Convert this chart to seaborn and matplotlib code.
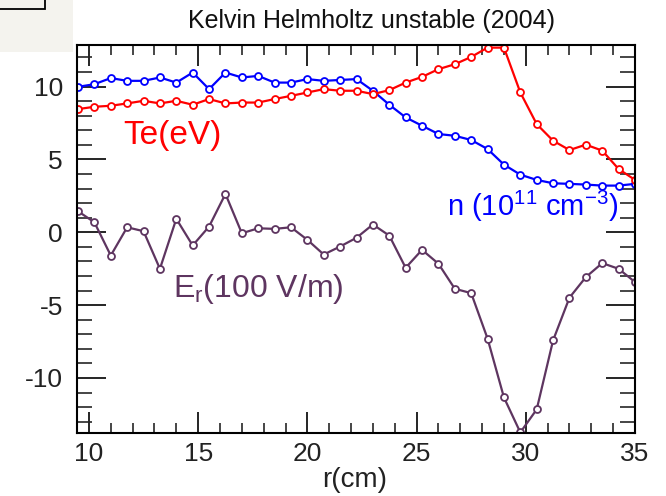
import numpy as np
import pandas as pd
import matplotlib
matplotlib.use("Agg")
import matplotlib.pyplot as plt
from matplotlib.patches import Rectangle
from matplotlib.ticker import MultipleLocator
import seaborn as sns

# Radial positions (cm), one probe point every 0.75 cm
r_cm = [9.5 + 0.75 * i for i in range(35)]

# Electron temperature (eV)
te_ev = [8.45, 8.61, 8.68, 8.84, 9.02, 8.84, 9.02, 8.75, 9.14, 8.84,
         8.90, 8.90, 9.14, 9.36, 9.59, 9.82, 9.71, 9.71, 9.48, 9.75,
         10.27, 10.66, 11.19, 11.53, 12.03, 12.67, 12.67, 9.59, 7.42, 6.28,
         5.64, 6.01, 5.60, 4.34, 3.59]

# Density (1e11 cm^-3)
n_e = [9.98, 10.16, 10.58, 10.39, 10.39, 10.62, 10.27, 10.96, 9.82, 10.96,
       10.62, 10.73, 10.27, 10.27, 10.51, 10.39, 10.45, 10.51, 9.71, 8.75,
       7.88, 7.31, 6.74, 6.62, 6.33, 5.71, 4.64, 3.95, 3.59, 3.36,
       3.32, 3.27, 3.20, 3.20, 3.32]

# Radial electric field (100 V/m)
e_r = [1.44, 0.68, -1.60, 0.34, 0.07, -2.51, 0.92, -0.91, 0.39, 2.63,
       -0.07, 0.27, 0.23, 0.34, -0.52, -1.53, -0.98, -0.38, 0.53, -0.23,
       -2.44, -1.21, -2.16, -3.88, -4.18, -7.30, -11.34, -13.74, -12.16, -7.42,
       -4.49, -3.08, -2.12, -2.51, -3.42]

title_text = "Kelvin Helmholtz unstable (2004)"
x_label = "r(cm)"
x_ticks = [10, 15, 20, 25, 30, 35]
y_ticks = [-10, -5, 0, 5, 10]

RED = "#ff0000"
BLUE = "#0000ff"
PURPLE = "#5e3560"

sns.set_theme(style="ticks")
plt.rcParams["font.family"] = ["Liberation Sans", "DejaVu Sans"]
plt.rcParams["mathtext.fontset"] = "custom"
plt.rcParams["mathtext.rm"] = "Liberation Sans"
plt.rcParams["mathtext.it"] = "Liberation Sans"
plt.rcParams["axes.unicode_minus"] = False

W, H = 666, 496
fig = plt.figure(figsize=(W / 100, H / 100), dpi=100)
fig.patch.set_facecolor("white")

# small panel remnant in the upper-left corner
fig.patches.append(Rectangle((0, 1 - 52 / H), 73 / W, 52 / H, transform=fig.transFigure,
                             facecolor="#f4f3ee", edgecolor="none", zorder=0))
fig.patches.append(Rectangle((-2 / W, 1 - 9 / H), 47 / W, 11 / H, transform=fig.transFigure,
                             facecolor="none", edgecolor="black", linewidth=1.3, zorder=1))

left, right, top, bottom = 76.7, 635.0, 45.0, 433.3
ax = fig.add_axes([left / W, 1 - bottom / H, (right - left) / W, (bottom - top) / H])

df = pd.DataFrame({"r": r_cm, "Te": te_ev, "n": n_e, "Er": e_r})
common = dict(marker="o", markersize=5.0, markerfacecolor="white",
              markeredgewidth=1.3, linewidth=1.6, ax=ax, clip_on=True)
sns.lineplot(data=df, x="r", y="Er", color=PURPLE, markeredgecolor=PURPLE, **common)
sns.lineplot(data=df, x="r", y="n", color=BLUE, markeredgecolor=BLUE, **common)
sns.lineplot(data=df, x="r", y="Te", color=RED, markeredgecolor=RED, **common)

ax.set_xlim(9.44, 35.0)
ax.set_ylim(-13.8, 12.85)
ax.set_xlabel("")
ax.set_ylabel("")
ax.set_xticks(x_ticks)
ax.set_yticks(y_ticks)
ax.xaxis.set_minor_locator(MultipleLocator(1))
ax.yaxis.set_minor_locator(MultipleLocator(1))

for s in ax.spines.values():
    s.set_visible(True)
    s.set_linewidth(1.5)
    s.set_color("black")

ax.tick_params(axis="x", which="major", direction="in", length=15, width=1.2,
               top=True, bottom=True, labelsize=19, pad=6, colors="black", labelcolor="#222222")
ax.tick_params(axis="x", which="minor", direction="in", length=7, width=1.2,
               top=True, bottom=True)
ax.tick_params(axis="y", which="major", direction="in", length=21, width=1.2,
               left=True, right=True, labelsize=19, pad=10, colors="black", labelcolor="#222222")
ax.tick_params(axis="y", which="minor", direction="in", length=11, width=1.2,
               left=True, right=True)

# curve labels
ax.text(11.56, 6.08, "Te(eV)", color=RED, fontsize=24, ha="left", va="baseline")
ax.text(26.39, 1.14, r"n (10$^{11}$ cm$^{-3}$)", color=BLUE, fontsize=21,
        ha="left", va="baseline")
ax.text(13.85, -4.45, r"E$_{\mathrm{r}}$(100 V/m)", color=PURPLE, fontsize=23,
        ha="left", va="baseline")

fig.text(371 / W, 1 - 28 / H, title_text, fontsize=18, ha="center", va="baseline", color="#111111")
fig.text(355 / W, 1 - 487 / H, x_label, fontsize=20, ha="center", va="baseline", color="#222222")

fig.savefig("out.png", dpi=100, facecolor="white")
